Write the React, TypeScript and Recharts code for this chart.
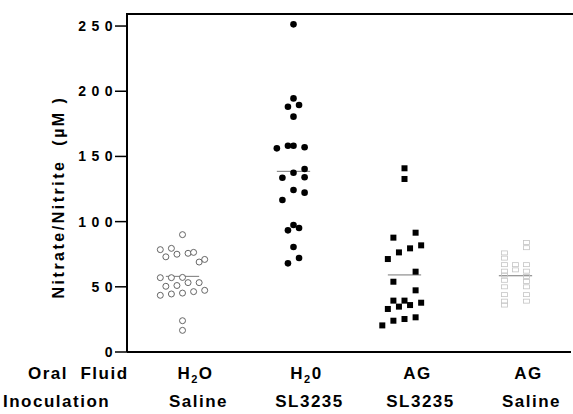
import React from 'react';
import { ScatterChart, Scatter, XAxis, YAxis, ReferenceLine } from 'recharts';

const FONT = '"Liberation Sans", Arial, Helvetica, sans-serif';

if (typeof document !== 'undefined') {
  document.documentElement.style.margin = '0';
  document.body.style.margin = '0';
}

// x-axis categories (numeric positions 1..4) and their two label rows
const groupCenters = [1, 2, 3, 4];
const oralFluid = ['H2O', 'H20', 'AG', 'AG'];
const inoculation = ['Saline', 'SL3235', 'SL3235', 'Saline'];
const yTicks = [0, 50, 100, 150, 200, 250];
const xDomain = [0.5, 4.5];
const yMax = 260;

// H2O / Saline (open circles): values and horizontal jitter
const h2oSalineVals = [90, 78.5, 79.5, 73, 75, 75.7, 76.4, 69, 71, 57, 57, 57.2, 50.4, 51, 53.2, 53.2, 43.5, 44.5, 45.2, 46.3, 47.3, 24, 16.6];
const h2oSalineJitter = [0, -0.2, -0.1, -0.15, -0.05, 0.05, 0.1, 0.15, 0.2, -0.2, -0.1, 0, -0.15, -0.05, 0.05, 0.15, -0.2, -0.1, 0, 0.1, 0.2, 0, 0];

// H2O / SL3235 (filled circles)
const h2oSlVals = [251.3, 194.5, 188.1, 189.4, 180.5, 156.2, 158.2, 158.2, 157, 140.3, 137.5, 133.7, 134, 124.2, 122.2, 116.6, 97.4, 93.3, 95.1, 80.5, 72.1, 68];
const h2oSlJitter = [0, 0, -0.05, 0.05, 0, -0.15, -0.05, 0, 0.1, 0.1, 0, -0.1, 0.1, 0, 0.1, -0.1, 0, -0.05, 0.05, 0, 0.05, -0.05];

// AG / SL3235 (filled squares)
const agSlVals = [140.9, 132.7, 91.5, 87.7, 81.8, 79.5, 76.4, 71.3, 61.6, 53.9, 47.3, 39.4, 39.4, 34.8, 36, 37.8, 33, 24, 25.3, 26.6, 20.4];
const agSlJitter = [0, 0, 0.1, -0.1, 0.15, 0.05, -0.05, -0.15, 0.1, -0.1, 0.1, -0.1, 0, -0.05, 0.05, 0.15, -0.15, -0.1, 0, 0.1, -0.2];

// AG / Saline (faint open squares)
const agSalineVals = [76, 72, 67, 62, 59, 55, 50, 44, 39, 36, 67, 63, 84, 80, 67, 62, 58, 54, 50, 44, 39];
const agSalineJitter = [-0.1, -0.1, -0.1, -0.1, -0.1, -0.1, -0.1, -0.1, -0.1, -0.1, 0, 0, 0.1, 0.1, 0.1, 0.1, 0.1, 0.1, 0.1, 0.1, 0.1];

const toPoints = (center: number, vals: number[], jitter: number[]) =>
  vals.map((y, i) => ({ x: center + jitter[i], y }));
const mean = (vals: number[]) => vals.reduce((s, v) => s + v, 0) / vals.length;

const groups = [
  { center: 1, data: toPoints(1, h2oSalineVals, h2oSalineJitter), mean: mean(h2oSalineVals) },
  { center: 2, data: toPoints(2, h2oSlVals, h2oSlJitter), mean: mean(h2oSlVals) },
  { center: 3, data: toPoints(3, agSlVals, agSlJitter), mean: mean(agSlVals) },
  { center: 4, data: toPoints(4, agSalineVals, agSalineJitter), mean: mean(agSalineVals) },
];

const OpenCircle = (p: any) => <circle cx={p.cx} cy={p.cy} r={3} fill="#fff" stroke="#555" strokeWidth={0.9} />;
const FilledCircle = (p: any) => <circle cx={p.cx} cy={p.cy} r={3.3} fill="#000" />;
const FilledSquare = (p: any) => <rect x={p.cx - 3} y={p.cy - 3} width={6} height={6} fill="#000" />;
const FaintSquare = (p: any) => (
  <rect x={p.cx - 3} y={p.cy - 2} width={6} height={4} fill="none" stroke="#c4c4c4" strokeWidth={0.8} />
);

const YTick = ({ x, y, payload }: any) => (
  <text x={x + 5} y={y} dy={5} textAnchor="end" fontFamily={FONT} fontWeight="bold" fontSize={14} letterSpacing={5.5} fill="#000">
    {payload.value}
  </text>
);

const XTick = ({ x, y, payload }: any) => {
  const i = groupCenters.indexOf(payload.value);
  const top = oralFluid[i];
  const common = { fontFamily: FONT, fontWeight: 'bold' as const, fontSize: 17, letterSpacing: 1.5, fill: '#000' };
  return (
    <g>
      <text x={x + 13} y={y + 27} textAnchor="middle" {...common}>
        {top.startsWith('H') ? (
          <>
            <tspan>H</tspan>
            <tspan fontSize={11} dy={4}>2</tspan>
            <tspan dy={-4}>{top.slice(2)}</tspan>
          </>
        ) : (
          top
        )}
      </text>
      <text x={x + 16} y={y + 55} textAnchor="middle" {...common}>
        {inoculation[i]}
      </text>
    </g>
  );
};

export default function App() {
  return (
    <div style={{ position: 'relative', width: 573, height: 414, background: '#fff' }}>
      <ScatterChart width={573} height={414} margin={{ top: 13, right: 2, bottom: 0, left: 0 }}>
        <XAxis
          type="number"
          dataKey="x"
          domain={xDomain}
          ticks={groupCenters}
          interval={0}
          tickLine={false}
          tickSize={0}
          tickMargin={0}
          axisLine={{ stroke: '#000', strokeWidth: 2 }}
          height={62}
          tick={<XTick />}
        />
        <YAxis
          type="number"
          dataKey="y"
          domain={[0, yMax]}
          ticks={yTicks}
          interval={0}
          width={127}
          tickSize={12}
          axisLine={{ stroke: '#000', strokeWidth: 2 }}
          tickLine={{ stroke: '#000', strokeWidth: 1.5 }}
          tick={<YTick />}
        />
        {groups.map((g) => (
          <ReferenceLine
            key={`m${g.center}`}
            segment={[
              { x: g.center - 0.15, y: g.mean },
              { x: g.center + 0.15, y: g.mean },
            ]}
            stroke="#777"
            strokeWidth={1}
          />
        ))}
        <Scatter data={groups[0].data} shape={OpenCircle} isAnimationActive={false} />
        <Scatter data={groups[1].data} shape={FilledCircle} isAnimationActive={false} />
        <Scatter data={groups[2].data} shape={FilledSquare} isAnimationActive={false} />
        <Scatter data={groups[3].data} shape={FaintSquare} isAnimationActive={false} />
      </ScatterChart>
      <svg width={573} height={414} style={{ position: 'absolute', left: 0, top: 0, pointerEvents: 'none' }}>
        {/* top frame line of the plot box */}
        <rect x={126} y={13} width={447} height={2} fill="#000" />
        <text
          transform="translate(64,197) rotate(-90)"
          textAnchor="middle"
          fontFamily={FONT}
          fontWeight="bold"
          fontSize={16}
          letterSpacing={2.5}
          style={{ whiteSpace: 'pre' }}
        >
          {'Nitrate/Nitrite  (µM )'}
        </text>
        <text x={28} y={379} fontFamily={FONT} fontWeight="bold" fontSize={17} letterSpacing={1.5} style={{ whiteSpace: 'pre' }}>
          {'Oral  Fluid'}
        </text>
        <text x={3} y={407} fontFamily={FONT} fontWeight="bold" fontSize={17} letterSpacing={1.5}>
          Inoculation
        </text>
      </svg>
    </div>
  );
}
